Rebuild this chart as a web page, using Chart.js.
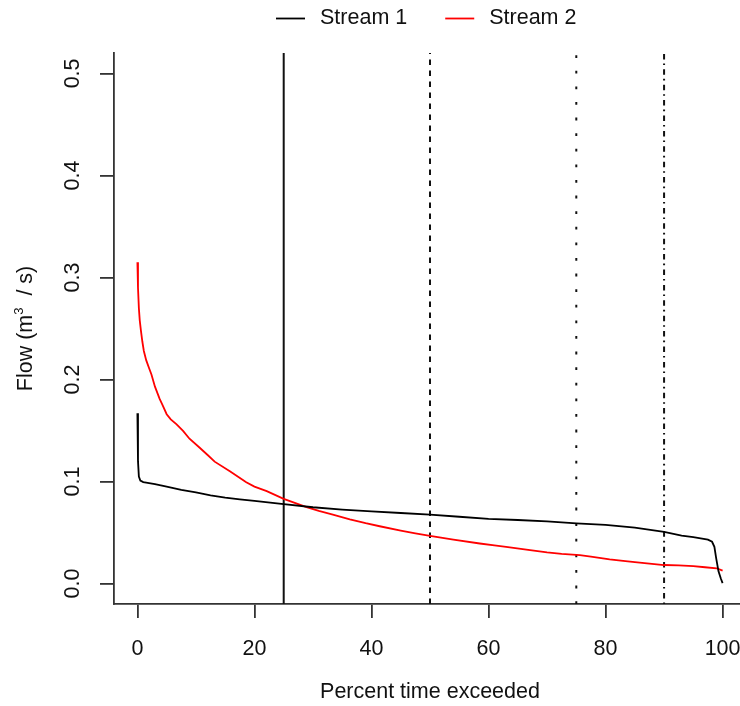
<!DOCTYPE html>
<html>
<head>
<meta charset="utf-8">
<script src="https://cdn.jsdelivr.net/npm/chart.js@4.4.1/dist/chart.umd.min.js"></script>
<style>
  html, body { margin: 0; padding: 0; background: #fff; overflow: hidden; }
  canvas { display: block; }
</style>
</head>
<body>
<canvas id="fdc" width="760" height="706"></canvas>
<script>
// flow duration curves
const stream1Pct  = [0, 0.1, 0.25, 0.5, 1, 1.5, 3, 5, 7.5, 10, 12.5, 15, 17.5, 20, 25, 30, 35, 40, 45, 50, 55, 60, 65, 70, 75, 80, 85, 90, 93, 95, 96.5, 97.5, 98.2, 98.6, 98.9, 99.3, 99.7, 100];
const stream1Flow = [0.167, 0.12, 0.105, 0.101, 0.0995, 0.0990, 0.0975, 0.095, 0.0918, 0.0893, 0.0865, 0.0843, 0.0826, 0.081, 0.0779, 0.0748, 0.0725, 0.0708, 0.0692, 0.0676, 0.0655, 0.0635, 0.0623, 0.061, 0.059, 0.0575, 0.0548, 0.0507, 0.047, 0.0455, 0.044, 0.043, 0.041, 0.036, 0.025, 0.012, 0.005, 0.0005];

const stream2Pct  = [0, 0.1, 0.25, 0.4, 0.6, 0.85, 1.1, 1.5, 2, 2.4, 3, 3.8, 4.3, 5, 5.7, 6.7, 7.8, 8.9, 10.6, 12, 13.2, 15.8, 18.6, 20, 22.1, 25, 28.9, 31, 33.4, 36.3, 39, 41.4, 45, 47.5, 50, 54, 58.5, 61, 63, 67.1, 70, 72.5, 75.6, 77.5, 80.7, 83, 85, 87.5, 90, 92.5, 95, 97, 99, 100];
const stream2Flow = [0.315, 0.29, 0.27, 0.258, 0.248, 0.237, 0.228, 0.219, 0.211, 0.205, 0.193, 0.181, 0.175, 0.166, 0.161, 0.156, 0.1497, 0.142, 0.1334, 0.126, 0.1195, 0.110, 0.0993, 0.095, 0.0906, 0.0831, 0.075, 0.0712, 0.0676, 0.063, 0.0592, 0.0562, 0.052, 0.0492, 0.0467, 0.043, 0.0393, 0.0375, 0.036, 0.0328, 0.0306, 0.0292, 0.028, 0.0265, 0.0237, 0.0222, 0.021, 0.0195, 0.0182, 0.0178, 0.0172, 0.016, 0.015, 0.0127];

const seriesNames = ['Stream 1', 'Stream 2'];
const refPct = [25, 50, 75, 90];
const xTicks = [0, 20, 40, 60, 80, 100];
const yTicks = [0, 0.1, 0.2, 0.3, 0.4, 0.5];
const xTitle = 'Percent time exceeded';

const xMin = -4, xMax = 104, yMin = -0.02, yMax = 0.52;
const FONT = "'Liberation Sans', Arial, sans-serif";
const FS = 21.5;
const INK = '#111';
const seriesColors = ['#000000', '#ff0000'];
const refDashes = [[], [5.5, 5.5], [2.8, 12.8], [1.6, 4, 5.5, 4.3]];

const toPoints = (xs, ys) => xs.map((x, i) => ({ x: x, y: ys[i] }));

const datasets = [
  { label: seriesNames[0], data: toPoints(stream1Pct, stream1Flow), borderColor: seriesColors[0] },
  { label: seriesNames[1], data: toPoints(stream2Pct, stream2Flow), borderColor: seriesColors[1] }
].map(d => Object.assign(d, { borderWidth: 1.8, pointRadius: 0, tension: 0, fill: false }));

refPct.forEach((p, i) => {
  datasets.push({
    label: 'ref' + p,
    isRef: true,
    data: [{ x: p, y: yMin }, { x: p, y: yMax }],
    borderColor: '#111',
    borderWidth: 2,
    borderDash: refDashes[i],
    pointRadius: 0,
    fill: false
  });
});

// y tick labels, y title and legend, R style
const extras = {
  id: 'extras',
  afterDraw(chart) {
    const ctx = chart.ctx;
    const ys = chart.scales.y;
    ctx.save();
    ctx.fillStyle = INK;
    ctx.font = FS + 'px ' + FONT;
    ctx.textAlign = 'center';
    ctx.textBaseline = 'middle';
    yTicks.forEach(v => {
      ctx.save();
      ctx.translate(73, ys.getPixelForValue(v));
      ctx.rotate(-Math.PI / 2);
      ctx.fillText(v.toFixed(1), 0, 0);
      ctx.restore();
    });

    // "Flow (m^3 / s)"
    const parts = [
      { t: 'Flow (m', s: FS, dy: 0 },
      { t: '3', s: 13, dy: -9 },
      { t: '  / s)', s: FS, dy: 0 }
    ];
    let total = 0;
    parts.forEach(p => { ctx.font = p.s + 'px ' + FONT; p.w = ctx.measureText(p.t).width; total += p.w; });
    const midY = (chart.chartArea.top + chart.chartArea.bottom) / 2;
    ctx.save();
    ctx.translate(25, midY);
    ctx.rotate(-Math.PI / 2);
    ctx.textAlign = 'left';
    ctx.textBaseline = 'alphabetic';
    let x = -total / 2;
    parts.forEach(p => {
      ctx.font = p.s + 'px ' + FONT;
      ctx.fillText(p.t, x, 7 + p.dy);
      x += p.w;
    });
    ctx.restore();

    // legend
    ctx.font = FS + 'px ' + FONT;
    ctx.textAlign = 'left';
    ctx.textBaseline = 'middle';
    let lx = 276;
    const ly = 18.5;
    chart.data.datasets.filter(d => !d.isRef).forEach(d => {
      ctx.strokeStyle = d.borderColor;
      ctx.lineWidth = 1.8;
      ctx.beginPath();
      ctx.moveTo(lx, ly);
      ctx.lineTo(lx + 29, ly);
      ctx.stroke();
      ctx.fillText(d.label, lx + 44, ly);
      lx += 44 + ctx.measureText(d.label).width + 38;
    });
    ctx.restore();
  }
};

new Chart(document.getElementById('fdc'), {
  type: 'line',
  data: { datasets: datasets },
  options: {
    responsive: false,
    animation: false,
    events: [],
    layout: { padding: { top: 53, right: 14, left: 0, bottom: 0 } },
    plugins: { legend: { display: false }, tooltip: { enabled: false } },
    scales: {
      x: {
        type: 'linear',
        min: xMin,
        max: xMax,
        afterBuildTicks: s => { s.ticks = xTicks.map(v => ({ value: v })); },
        afterFit: s => { s.height = 102; },
        grid: { drawOnChartArea: false, drawTicks: true, tickLength: 14, color: '#333', lineWidth: 1.8 },
        border: { display: true, color: '#333', width: 1.8 },
        ticks: { color: INK, font: { family: FONT, size: FS }, padding: 18, maxRotation: 0, autoSkip: false },
        title: { display: true, text: xTitle, color: INK, font: { family: FONT, size: FS }, padding: { top: 0, bottom: 1 } }
      },
      y: {
        type: 'linear',
        min: yMin,
        max: yMax,
        afterBuildTicks: s => { s.ticks = yTicks.map(v => ({ value: v })); },
        afterFit: s => { s.width = 114; },
        grid: { drawOnChartArea: false, drawTicks: true, tickLength: 14, color: '#333', lineWidth: 1.8 },
        border: { display: true, color: '#333', width: 1.8 },
        ticks: { display: false }
      }
    }
  },
  plugins: [extras]
});
</script>
</body>
</html>
